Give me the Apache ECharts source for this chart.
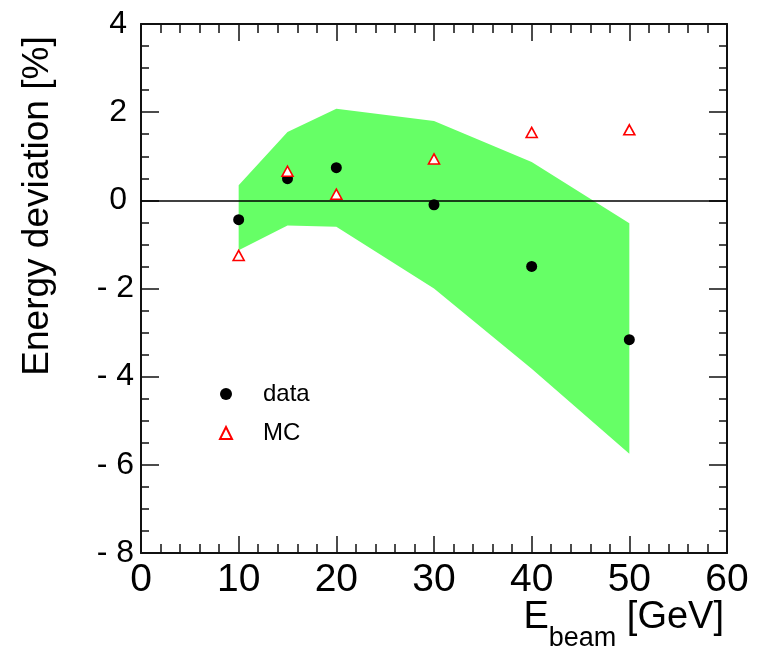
<!DOCTYPE html>
<html>
<head>
<meta charset="utf-8">
<script src="https://cdn.jsdelivr.net/npm/echarts@6/dist/echarts.min.js"></script>
<style>
html,body{margin:0;padding:0;background:#fff;}
#chart{width:763px;height:647px;}
</style>
</head>
<body>
<div id="chart"></div>
<script>
// ---- data ----
const energies   = [10, 15, 20, 30, 40, 50];          // E_beam [GeV]
const dataDev    = [-0.44, 0.49, 0.74, -0.10, -1.50, -3.16];
const mcDev      = [-1.25, 0.66, 0.14, 0.94, 1.54, 1.60];
const bandUpper  = [0.34, 1.55, 2.08, 1.80, 0.87, -0.52];
const bandLower  = [-1.13, -0.57, -0.60, -2.00, -3.82, -5.75];
const xRange     = [0, 60];
const yRange     = [-8, 4];

const FONT = '"Liberation Sans", Arial, Helvetica, sans-serif';
const INK = '#111';

const chart = echarts.init(document.getElementById('chart'), null, {renderer: 'canvas'});

function xAxisCfg(pos, showLabels) {
  return {
    type: 'value', position: pos, min: xRange[0], max: xRange[1], interval: 10,
    axisLine: {show: true, onZero: false, lineStyle: {color: INK, width: 2}},
    axisTick: {show: true, inside: true, length: 17, lineStyle: {color: INK, width: 1.5}},
    minorTick: {show: true, splitNumber: 5, length: 9, lineStyle: {color: INK, width: 1.5}},
    splitLine: {show: false}, minorSplitLine: {show: false},
    axisLabel: {show: showLabels, fontSize: 39, color: '#000', fontFamily: FONT, margin: 8}
  };
}
function yAxisCfg(pos, showLabels) {
  return {
    type: 'value', position: pos, min: yRange[0], max: yRange[1], interval: 2,
    axisLine: {show: true, onZero: false, lineStyle: {color: INK, width: 2}},
    axisTick: {show: true, inside: true, length: 18, lineStyle: {color: INK, width: 1.5}},
    minorTick: {show: true, splitNumber: 4, length: 8, lineStyle: {color: INK, width: 1.5}},
    splitLine: {show: false}, minorSplitLine: {show: false},
    axisLabel: {
      show: showLabels, color: '#000', fontFamily: FONT, fontSize: 32, margin: 7,
      formatter: function (v) {
        return v < 0 ? '{n|- ' + Math.abs(v) + '}' : '{p|' + v + '}';
      },
      rich: {
        n: {fontSize: 32, fontFamily: FONT, color: '#000'},
        p: {fontSize: 32, fontFamily: FONT, color: '#000', padding: [0, 7, 0, 0]}
      }
    }
  };
}

const option = {
  animation: false,
  backgroundColor: '#fff',
  grid: {left: 141, top: 24, right: 36, bottom: 94, containLabel: false},
  xAxis: [xAxisCfg('bottom', true), xAxisCfg('top', false)],
  yAxis: [yAxisCfg('left', true), yAxisCfg('right', false)],
  legend: {
    orient: 'vertical', left: 214, top: 377,
    itemWidth: 12, itemHeight: 12, itemGap: 15,
    data: ['data', 'MC'],
    formatter: function (name) { return '{g| }{t|' + name + '}'; },
    textStyle: {
      fontSize: 24, fontFamily: FONT, color: '#000',
      rich: {
        g: {width: 26, lineHeight: 24, fontSize: 24},
        t: {fontSize: 24, lineHeight: 24, fontFamily: FONT, color: '#000'}
      }
    }
  },
  graphic: [
    {
      type: 'text', x: 38, y: 206, rotation: Math.PI / 2, z: 10,
      style: {text: 'Energy deviation [%]', fill: '#000', font: '37px ' + FONT,
              align: 'center', verticalAlign: 'middle'}
    },
    {
      type: 'text', x: 724, y: 599, z: 10,
      style: {
        text: '{m|E}{s|beam}{m| [GeV]}', align: 'right', verticalAlign: 'top', fill: '#000',
        rich: {
          m: {fontSize: 38, fontFamily: FONT, lineHeight: 42, verticalAlign: 'top', color: '#000'},
          s: {fontSize: 27, fontFamily: FONT, lineHeight: 21, verticalAlign: 'top', padding: [26, 0, 0, 0], color: '#000'}
        }
      }
    }
  ],
  series: [
    {
      name: 'band', type: 'custom', xAxisIndex: 0, yAxisIndex: 0, z: 1, silent: true,
      data: energies.map((e, i) => [e, bandUpper[i], bandLower[i]]),
      encode: {x: 0, y: [1, 2]},
      renderItem: function (params, api) {
        if (params.dataIndex !== 0) return null;
        const pts = [];
        for (let i = 0; i < energies.length; i++) pts.push(api.coord([energies[i], bandUpper[i]]));
        for (let i = energies.length - 1; i >= 0; i--) pts.push(api.coord([energies[i], bandLower[i]]));
        return {type: 'polygon', shape: {points: pts}, style: {fill: '#66ff66', stroke: null}};
      }
    },
    {
      name: 'data', type: 'scatter', z: 5,
      symbol: 'circle', symbolSize: 11,
      itemStyle: {color: '#000', opacity: 1},
      data: energies.map((e, i) => [e, dataDev[i]]),
      markLine: {
        silent: true, symbol: ['none', 'none'], z: 3,
        label: {show: false},
        lineStyle: {color: '#000', width: 1.5, type: 'solid'},
        data: [{yAxis: 0}]
      }
    },
    {
      name: 'MC', type: 'scatter', z: 6,
      symbol: 'triangle', symbolSize: [11, 10],
      itemStyle: {color: '#fff', borderColor: '#ff0000', borderWidth: 1.6, opacity: 1},
      data: energies.map((e, i) => [e, mcDev[i]])
    }
  ]
};
chart.setOption(option);
</script>
</body>
</html>
